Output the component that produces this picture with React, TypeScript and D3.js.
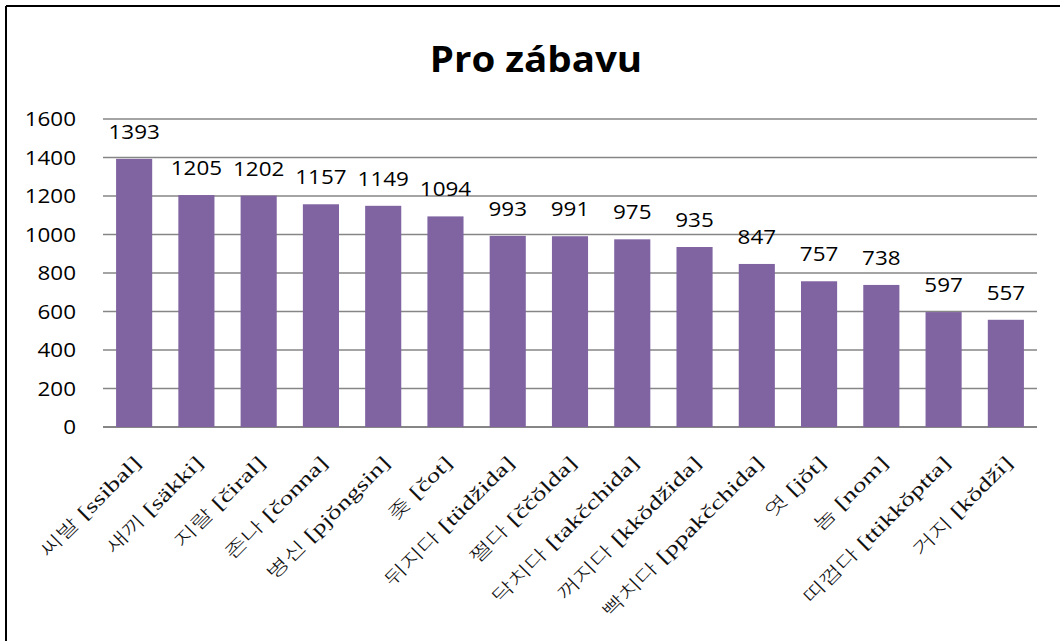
import React from 'react';
import * as d3 from 'd3';

const categories = [
  ['씨발', '[ssibal]'],
  ['새끼', '[säkki]'],
  ['지랄', '[čiral]'],
  ['존나', '[čonna]'],
  ['병신', '[pjŏngsin]'],
  ['좆', '[čot]'],
  ['뒤지다', '[tüdžida]'],
  ['쩔다', '[ččŏlda]'],
  ['닥치다', '[takčchida]'],
  ['꺼지다', '[kkŏdžida]'],
  ['빡치다', '[ppakčchida]'],
  ['엿', '[jŏt]'],
  ['놈', '[nom]'],
  ['띠껍다', '[ttikkŏptta]'],
  ['거지', '[kŏdži]'],
];
const values = [1393, 1205, 1202, 1157, 1149, 1094, 993, 991, 975, 935, 847, 757, 738, 597, 557];
const yTicks = [0, 200, 400, 600, 800, 1000, 1200, 1400, 1600];
const title = 'Pro zábavu';

export default function App() {
  const width = 1060;
  const height = 641;
  const left = 103, right = 1037, top = 119, bottom = 427;

  const x = d3.scaleBand<number>()
    .domain(d3.range(values.length))
    .range([left, right])
    .paddingInner(0.42)
    .paddingOuter(0.21);
  const y = d3.scaleLinear().domain([0, 1600]).range([bottom, top]);

  const numFont = "'Open Sans', sans-serif";
  const grid = '#868686';

  return (
    <svg width={width} height={height} style={{ position: 'absolute', left: 0, top: 0 }}>
      <rect x={0} y={0} width={width} height={height} fill="#fff" />
      <line x1={6} y1={6} x2={width} y2={6} stroke="#000" strokeWidth={2} />
      <line x1={6} y1={6} x2={6} y2={height} stroke="#000" strokeWidth={2} />

      <text transform={`translate(536,72) scale(1.1,1)`} textAnchor="middle"
        fontFamily={numFont} fontWeight="bold" fontSize={35} fill="#000">{title}</text>

      {yTicks.map(t => (
        <g key={t}>
          <line x1={left} x2={right} y1={y(t)} y2={y(t)} stroke={grid} strokeWidth={t === 0 ? 2 : 1.5} />
          <text transform={`translate(76,${y(t) + 7}) scale(1.15,1)`} textAnchor="end"
            fontFamily={numFont} fontSize={19.5} fill="#000">{t}</text>
        </g>
      ))}

      {values.map((v, i) => {
        const cx = x(i)! + x.bandwidth() / 2;
        return (
          <g key={i}>
            <rect x={x(i)} y={y(v)} width={x.bandwidth()} height={bottom - y(v)} fill="#8064A2" />
            <text transform={`translate(${cx},${y(v) - 20}) scale(1.15,1)`} textAnchor="middle"
              fontFamily={numFont} fontSize={19.5} fill="#000">{v}</text>
            <text transform={`translate(${cx + 8},${bottom + 37}) rotate(-45) scale(1.4,1)`}
              textAnchor="end" fontFamily="'Liberation Serif', 'Noto Sans CJK KR', serif"
              fontSize={19.5} fill="#111">
              <tspan fontFamily="'Noto Sans CJK KR', sans-serif" fontSize={18} fontWeight={300}>{categories[i][0]}</tspan>
              <tspan> {categories[i][1]}</tspan>
            </text>
          </g>
        );
      })}
    </svg>
  );
}
